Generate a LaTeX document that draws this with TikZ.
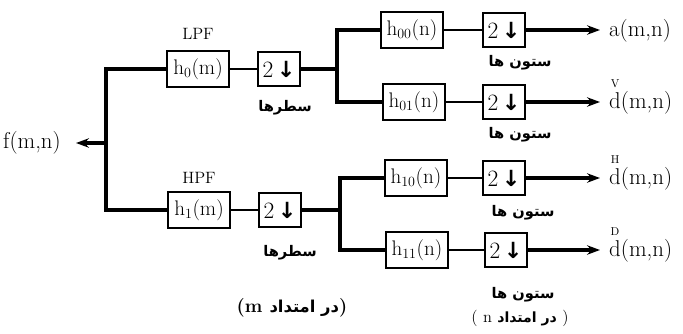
\documentclass[tikz,border=0pt]{standalone}
\usepackage{fontspec}
\usepackage{amsmath}
\usetikzlibrary{arrows.meta}
\TeXXeTstate=1
\newfontfamily\arabicfont[Script=Arabic]{DejaVu Sans}
\newfontfamily\symfont{DejaVu Sans}
\newcommand{\dn}{{\fontsize{20}{22}\selectfont 2}\,{\symfont\bfseries\fontsize{19}{21}\selectfont ↓}}
\newcommand{\supd}[1]{$\overset{\scriptscriptstyle\mathrm{#1}}{\mathrm{d}}$}
\begin{document}
\begin{tikzpicture}[x=0.03cm,y=-0.03cm,
  box/.style={draw, line width=1pt, inner sep=0pt, font=\fontsize{18}{20}\selectfont},
  hbox/.style={box, minimum width=1.86cm, minimum height=1.08cm},
  dbox/.style={box, minimum width=1.26cm, minimum height=1.02cm},
  wire/.style={line width=2.6pt},
  thinwire/.style={line width=1.7pt},
  outarrow/.style={wire, -{Stealth[length=11pt,width=8pt]}},
  lab/.style={inner sep=0pt, font=\fontsize{19.5}{21}\selectfont},
  flab/.style={inner sep=0pt, font=\fontsize{14}{16}\selectfont},
  fa/.style={inner sep=0pt, font=\arabicfont\bfseries\fontsize{12.5}{14}\selectfont}]
\useasboundingbox (0,0) rectangle (683,333);
% input
\node[lab, anchor=west] (f) at (3,143) {f(m,n)};
\coordinate (tm) at (106,143);
\coordinate (ftip) at (76,143);
% first stage
\node[flab] (lpf) at (198,34) {LPF};
\node[hbox] (h0m) at (198,69) {h$_0$(m)};
\node[dbox] (d1) at (279,69) {\dn};
\coordinate (b1) at (337,69);
\node[flab] (hpf) at (199,178) {HPF};
\node[hbox] (h1m) at (199,210) {h$_1$(m)};
\node[dbox] (d2) at (280,210) {\dn};
\coordinate (b2) at (340,210);
\node[fa] (r1) at (285,108) {\beginR سطرها\endR};
\node[fa] (r2) at (290,253) {\beginR سطرها\endR};
% second stage
\node[hbox] (h00) at (412,30) {h$_{00}$(n)};
\node[dbox] (d3) at (504,30) {\dn};
\node[hbox] (h01) at (414,102) {h$_{01}$(n)};
\node[dbox] (d4) at (504,102) {\dn};
\node[hbox] (h10) at (416,178) {h$_{10}$(n)};
\node[dbox] (d5) at (504,178) {\dn};
\node[hbox] (h11) at (417,250) {h$_{11}$(n)};
\node[dbox] (d6) at (506,250) {\dn};
\node[fa] (c1) at (520,63) {\beginR ستون ها\endR};
\node[fa] (c2) at (520,135) {\beginR ستون ها\endR};
\node[fa] (c3) at (523,213) {\beginR ستون ها\endR};
\node[fa] (c4) at (523,295) {\beginR ستون ها\endR};
% outputs
\coordinate (o1) at (600,30);
\coordinate (o2) at (600,102);
\coordinate (o3) at (600,178);
\coordinate (o4) at (600,250);
\node[lab, anchor=base west] (a) at (609,36) {a(m,n)};
\node[lab, anchor=base west] (dv) at (609,108) {\supd{V}(m,n)};
\node[lab, anchor=base west] (dh) at (609,184) {\supd{H}(m,n)};
\node[lab, anchor=base west] (dd) at (609,256) {\supd{D}(m,n)};
% bottom notes
\node[inner sep=0pt, font=\bfseries\fontsize{16}{18}\selectfont] (am) at (292,308)
  {(m {\arabicfont\bfseries\fontsize{14}{16}\selectfont\beginR در امتداد\endR})};
\node[inner sep=0pt, font=\fontsize{14}{16}\selectfont] (an) at (520,318)
  {( n {\arabicfont\bfseries\fontsize{12}{14}\selectfont\beginR در امتداد\endR} )};
% wires
\draw[outarrow] (tm) -- (ftip);
\draw[wire] (h0m.west) -| (tm) |- (h1m.west);
\draw[thinwire] (h0m) -- (d1);
\draw[wire] (d1.east) -- (b1);
\draw[wire] (h00.west) -| (b1) |- (h01.west);
\draw[thinwire] (h1m) -- (d2);
\draw[wire] (d2.east) -- (b2);
\draw[wire] (h10.west) -| (b2) |- (h11.west);
\draw[thinwire] (h00) -- (d3);
\draw[thinwire] (h01) -- (d4);
\draw[thinwire] (h10) -- (d5);
\draw[thinwire] (h11) -- (d6);
\draw[outarrow] (d3.east) -- (o1);
\draw[outarrow] (d4.east) -- (o2);
\draw[outarrow] (d5.east) -- (o3);
\draw[outarrow] (d6.east) -- (o4);
\end{tikzpicture}
\end{document}
